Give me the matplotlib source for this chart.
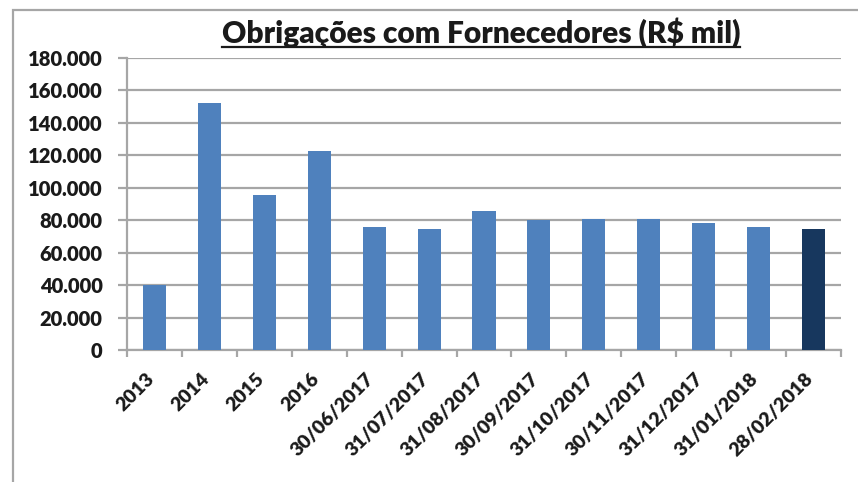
import matplotlib
matplotlib.use("Agg")
import matplotlib.pyplot as plt
from matplotlib.patches import Rectangle
from matplotlib.lines import Line2D
from matplotlib.transforms import ScaledTranslation
from matplotlib.ticker import FuncFormatter, MultipleLocator, FixedLocator

categories = ["2013", "2014", "2015", "2016", "30/06/2017", "31/07/2017", "31/08/2017",
              "30/09/2017", "31/10/2017", "30/11/2017", "31/12/2017", "31/01/2018", "28/02/2018"]
values = [40000, 152000, 95500, 122700, 75800, 74600, 85700,
          80200, 80700, 80700, 78500, 75800, 74600]
title = "Obrigações com Fornecedores (R$ mil)"

light = "#4F81BD"
dark = "#17375E"
colors = [light] * (len(values) - 1) + [dark]

plt.rcParams['font.family'] = ['Lato', 'DejaVu Sans']
W, H = 858, 482
fig = plt.figure(figsize=(W / 100, H / 100), dpi=100)
fig.patch.set_facecolor("white")

# outer frame (left and top visible)
fig.add_artist(Rectangle((13 / W, -0.1), 2.0, 1 - 10 / H + 0.1, transform=fig.transFigure,
                         fill=False, edgecolor="#A6A6A6", linewidth=1.6))

ax = fig.add_axes([127 / W, 1 - 350 / H, (841 - 127) / W, (350 - 58) / H])
x = list(range(len(categories)))
ax.bar(x, values, width=0.42, color=colors, zorder=3)
ax.set_xlim(-0.5, len(categories) - 0.5)
ax.set_ylim(0, 180000)
ax.yaxis.set_major_locator(MultipleLocator(20000))
ax.yaxis.set_major_formatter(FuncFormatter(lambda v, p: f"{int(v):,}".replace(",", ".")))
ax.grid(axis="y", color="#A6A6A6", linewidth=1.6, zorder=0)
ax.set_axisbelow(True)
for s in ["top", "right"]:
    ax.spines[s].set_visible(False)
for s in ["left", "bottom"]:
    ax.spines[s].set_color("#A6A6A6")
    ax.spines[s].set_linewidth(1.6)

ax.set_xticks(x)
ax.set_xticklabels(categories, rotation=45, ha="right", va="center", rotation_mode="anchor",
                   fontsize=14, fontweight="heavy", color="#1A1A1A")
ax.tick_params(axis="x", which="major", length=0, pad=19)
shift = ScaledTranslation(-0.03, 0, fig.dpi_scale_trans)
for lbl in ax.get_xticklabels():
    lbl.set_transform(lbl.get_transform() + shift)
ax.xaxis.set_minor_locator(FixedLocator([i - 0.5 for i in range(len(categories) + 1)]))
ax.tick_params(axis="x", which="minor", length=5, width=1.6, color="#A6A6A6")
ax.tick_params(axis="y", length=6.5, width=1.6, color="#A6A6A6", labelsize=14.5,
               labelcolor="#1A1A1A", pad=11)
for lbl in ax.get_yticklabels():
    lbl.set_fontweight("heavy")

t = fig.text(481 / W, 1 - 33 / H, title, ha="center", va="center",
             fontsize=21.5, fontweight="heavy", color="#1A1A1A")
fig.canvas.draw()
bb = t.get_window_extent()
uy = 1 - 47 / H
fig.add_artist(Line2D([bb.x0 / W, bb.x1 / W], [uy, uy], transform=fig.transFigure,
                      color="#1A1A1A", linewidth=1.6))

fig.savefig("out.png", dpi=100)
